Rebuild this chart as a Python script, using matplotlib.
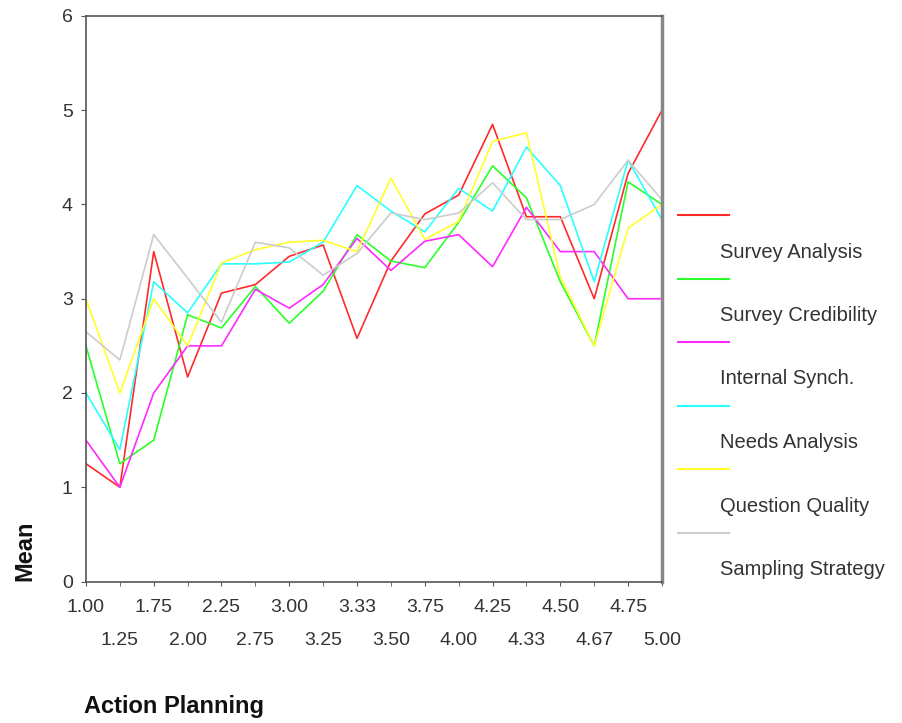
import matplotlib.pyplot as plt
from matplotlib.lines import Line2D
import numpy as np

plt.rcParams['font.family'] = ['Liberation Sans', 'DejaVu Sans']

# Action Planning score groups (category axis)
categories = ["1.00", "1.25", "1.75", "2.00", "2.25", "2.75", "3.00", "3.25", "3.33",
              "3.50", "3.75", "4.00", "4.25", "4.33", "4.50", "4.67", "4.75", "5.00"]

# mean score of each scale per group
survey_analysis = [1.25, 1.0, 3.5, 2.17, 3.06, 3.15, 3.45, 3.57, 2.58,
                   3.4, 3.9, 4.1, 4.85, 3.87, 3.87, 3.0, 4.33, 5.0]
survey_credibility = [2.5, 1.25, 1.5, 2.83, 2.69, 3.13, 2.74, 3.08, 3.68,
                      3.4, 3.33, 3.81, 4.41, 4.07, 3.18, 2.5, 4.24, 4.0]
internal_synch = [1.5, 1.0, 2.0, 2.5, 2.5, 3.1, 2.9, 3.15, 3.64,
                  3.3, 3.61, 3.68, 3.34, 3.97, 3.5, 3.5, 3.0, 3.0]
needs_analysis = [2.0, 1.4, 3.18, 2.85, 3.37, 3.37, 3.39, 3.6, 4.2,
                  3.93, 3.71, 4.17, 3.93, 4.61, 4.2, 3.18, 4.47, 3.84]
question_quality = [3.0, 2.0, 3.0, 2.5, 3.38, 3.52, 3.6, 3.62, 3.5,
                    4.28, 3.63, 3.82, 4.67, 4.76, 3.23, 2.5, 3.75, 4.0]
sampling_strategy = [2.65, 2.35, 3.68, 3.22, 2.75, 3.6, 3.54, 3.25, 3.48,
                     3.91, 3.84, 3.91, 4.23, 3.84, 3.84, 4.0, 4.47, 4.05]

series_names = ["Survey Analysis", "Survey Credibility", "Internal Synch.",
                "Needs Analysis", "Question Quality", "Sampling Strategy"]
series_values = [survey_analysis, survey_credibility, internal_synch,
                 needs_analysis, question_quality, sampling_strategy]
colors = ["#ff2a2a", "#2aff2a", "#ff2aff", "#2affff", "#ffff2a", "#cccccc"]

fig = plt.figure(figsize=(9.02, 7.23), dpi=100)
ax = fig.add_axes([0.0953, 0.1957, 0.6386, 0.7822])

x = np.arange(len(categories))
for vals, col in zip(series_values, colors):
    ax.plot(x, vals, color=col, lw=1.2)

ax.set_xlim(0, len(categories) - 1)
ax.set_ylim(0, 6)
ax.set_yticks(range(7))

# alternate the category labels over two rows
ax.set_xticks(x[::2])
ax.set_xticklabels(categories[::2])
ax.set_xticks(x[1::2], minor=True)
ax.set_xticklabels(categories[1::2], minor=True)
tick_style = dict(labelsize=14, colors="#555555", labelcolor="#333333")
ax.tick_params(axis="x", which="major", length=3, pad=9.5, **tick_style)
ax.tick_params(axis="x", which="minor", length=3, pad=33.5, **tick_style)
ax.tick_params(axis="y", length=3.6, pad=6, **tick_style)

for side in ["left", "bottom", "top"]:
    ax.spines[side].set_color("#555555")
    ax.spines[side].set_linewidth(1.2)
ax.spines["right"].set_color("#888888")
ax.spines["right"].set_linewidth(2.5)

fig.text(0.028, 0.197, "Mean", rotation=90, fontsize=17, fontweight="bold",
         ha="center", va="bottom", color="#111111")
fig.text(0.093, 0.0235, "Action Planning", fontsize=17, fontweight="bold",
         ha="left", va="center", color="#111111")

# key: each line sample sits above its label
for i, (name, col) in enumerate(zip(series_names, colors)):
    y_line = 1 - (215 + i * 63.5) / 723
    y_text = 1 - (252 + i * 63.5) / 723
    fig.add_artist(Line2D([678 / 902, 729 / 902], [y_line, y_line], color=col, lw=1.5))
    fig.text(720 / 902, y_text, name, fontsize=14.5, color="#333333", ha="left", va="center")

fig.savefig("out.png", dpi=100)
